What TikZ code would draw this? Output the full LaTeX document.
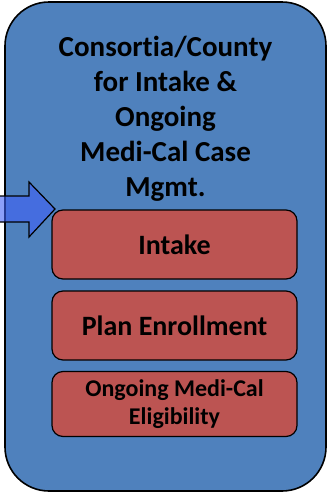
\documentclass[tikz,border=0pt]{standalone}
\usepackage{fontspec}
\setmainfont[Ligatures=NoCommon]{Carlito}
\usepackage{tikz}
\definecolor{caseblue}{RGB}{79,129,189}
\definecolor{stepred}{RGB}{188,84,82}
\definecolor{arrowblue}{RGB}{63,97,247}
\tikzset{
  countybox/.style={draw=black, line width=1.6pt, fill=caseblue, rounded corners=44pt},
  taskbox/.style={draw=black, line width=1.2pt, fill=stepred, rounded corners=11pt,
    minimum width=245pt, align=center, font=\bfseries\fontsize{28}{32}\selectfont},
  smalltask/.style={taskbox, font=\bfseries\fontsize{24}{28}\selectfont},
}

\begin{document}
\begin{tikzpicture}
[x=1pt, y=-1pt]
\useasboundingbox (0,0) rectangle (328,493);
\draw[countybox] (5,2) rectangle (326,491);
\node[align=center, font=\bfseries\fontsize{29}{35}\selectfont] (title) at (165.5,119) {Consortia/County\\for Intake \&\\Ongoing\\Medi-Cal Case\\Mgmt.};
\node[taskbox, minimum height=69pt] (intake) at (174.5,244.5) {Intake};
\node[taskbox, minimum height=69pt] (enroll) at (174.5,325.5) {Plan Enrollment};
\node[smalltask, minimum height=65pt] (elig) at (174.5,404) {Ongoing Medi-Cal\\Eligibility};
% block arrow into the intake box
\coordinate (tip) at (55,209);
\filldraw[fill=arrowblue, fill opacity=0.6, draw=black, line width=1.2pt]
  (-3,196) -- (29,196) -- (29,182) -- (tip) -- (29,237) -- (29,222) -- (-3,222) -- cycle;
\end{tikzpicture}
\end{document}
